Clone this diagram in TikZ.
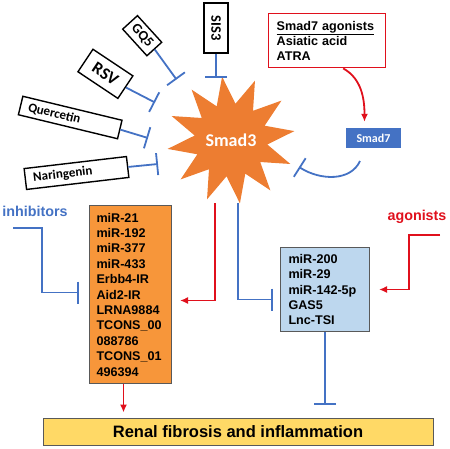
\documentclass[tikz,border=0pt]{standalone}
\usepackage{fontspec}
\setmainfont{Liberation Sans}
\newfontfamily\calib{Carlito}
\usetikzlibrary{calc, arrows, arrows.meta, shapes.geometric}
\definecolor{sblue}{HTML}{4472C4}
\definecolor{sorange}{HTML}{ED7D31}
\definecolor{lorange}{HTML}{F7963A}
\definecolor{lblue}{HTML}{BDD7EE}
\definecolor{syellow}{HTML}{FFD966}
\definecolor{sred}{HTML}{E0101C}

\begin{document}
\begin{tikzpicture}[x=1pt,y=-1pt,>={Latex[length=8pt,width=7pt]},
  drug/.style={draw,line width=1.4pt,fill=white,inner sep=2pt,font=\calib\bfseries\fontsize{13}{15}\selectfont},
  inh/.style={sblue,line width=1.8pt,-{Bar[width=22pt]}},
  act/.style={sred,line width=1.8pt,->},
  listbox/.style={draw=black!65,line width=1pt,anchor=north west,align=left,font=\bfseries\fontsize{12.6}{15.4}\selectfont},
  lbl/.style={font=\bfseries\fontsize{14.3}{16}\selectfont}]
\useasboundingbox (0,0) rectangle (450,448);
\draw node [drug,rotate=-90,minimum width=50,minimum height=24,font=\calib\bfseries\fontsize{14.5}{16}\selectfont] (sis3) at (216,28) {SIS3};
\draw node [drug,rotate=-47.7,minimum width=36,minimum height=20,font=\calib\bfseries\fontsize{14}{16}\selectfont] (gq5) at (142.2,35.7) {GQ5};
\draw node [drug,rotate=-33.7,minimum width=48,minimum height=27,font=\calib\bfseries\fontsize{17}{19}\selectfont] (rsv) at (105.4,73.8) {RSV};
\draw node [drug,rotate=-13.6,minimum height=19,text width=86,inner xsep=8pt,align=left] (quer) at (70.2,117.5) {Quercetin};
\draw node [drug,rotate=6.7,minimum height=21,text width=87,inner xsep=8pt,align=left] (nar) at (76.5,173) {Naringenin};
\draw node [star,star points=12,star point ratio=1.75,shape border rotate=8,fill=sorange,minimum size=128,inner sep=0pt,text=white,font=\calib\bfseries\fontsize{18}{20}\selectfont] (smad3) at (231,140) {Smad3};
\draw node [draw=sred,line width=1.4pt,anchor=north west,minimum width=117,minimum height=54,text width=101,inner xsep=8pt,align=left,font=\bfseries\fontsize{12.6}{15}\selectfont] (agon) at (268,13) {\underline{Smad7 agonists}\\Asiatic acid\\ATRA};
\draw node [fill=sblue,minimum width=55,minimum height=20,text=white,font=\calib\bfseries\fontsize{12}{14}\selectfont] (smad7) at (373.5,138) {Smad7};
\draw node [listbox,fill=lorange,minimum height=178,text width=68,inner xsep=7pt] (mirs) at (89,205) {miR-21\\miR-192\\miR-377\\miR-433\\Erbb4-IR\\Aid2-IR\\LRNA9884\\TCONS\_00\\088786\\TCONS\_01\\496394};
\draw node [listbox,fill=lblue,minimum height=84,text width=73,inner xsep=8pt] (lnc) at (280,247) {miR-200\\miR-29\\miR-142-5p\\GAS5\\Lnc-TSI};
\draw node [draw=black!65,line width=1pt,fill=syellow,minimum width=390,minimum height=27,font=\bfseries\fontsize{16.5}{18}\selectfont] (renal) at (238,431.5) {Renal fibrosis and inflammation};
\draw node [lbl,text=sblue] (inhib) at (35,211) {inhibitors};
\draw node [lbl,text=sred] (agtxt) at (417,217) {agonists};
\coordinate (sis3bar) at (216,78);
\coordinate (gq5bar) at (176.5,79.5);
\coordinate (rsvbar) at (155,102.5);
\coordinate (querbar) at (148,138);
\coordinate (narbar) at (158,164);
\coordinate (s7out) at (360,161);
\coordinate (s7bar) at (299,167);
\coordinate (s3a) at (215,203);
\coordinate (s3b) at (238,203);
\coordinate (inh0) at (13,228);
\coordinate (ag0) at (440,235);
\draw [inh] (sis3.east) -- (sis3bar);
\draw [inh] (gq5.east) -- (gq5bar);
\draw [inh] (rsv.east) -- (rsvbar);
\draw [inh] (quer.east) -- (querbar);
\draw [inh] (nar.east) -- (narbar);
\draw [act] ($ (agon.south) + (16,0) $) .. controls ($ (agon.south) + (34,10) $) and ($ (smad7.north) + (-9,-30) $) .. ($ (smad7.north) + (-9,-6) $);
\draw [inh] (s7out) .. controls ($ (s7out) + (-9,20) $) and ($ (s7bar) + (22,14) $) .. (s7bar);
\draw [act] (s3a) |- ($ (mirs.east) + (8,6) $);
\draw [inh] (s3b) |- ($ (lnc.west) + (-7,10) $);
\draw [inh] (inh0) -- ++(29,0) |- ($ (mirs.west) + (-10,-2) $);
\draw [act] (ag0) -- ++(-31,0) |- ($ (lnc.east) + (9,0) $);
\draw [inh] (lnc.south) -- ($ (lnc.south |- renal.north) + (0,-13) $);
\draw [act] ($ (mirs.south) + (-7,0) $) -- ($ (mirs.south |- renal.north) + (-7,-5) $);
\end{tikzpicture}
\end{document}
